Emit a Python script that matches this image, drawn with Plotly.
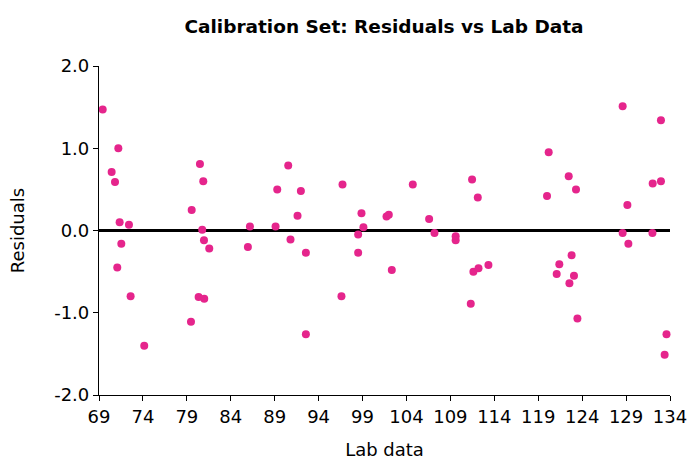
import plotly.graph_objects as go

lab_data = [69.42, 71.2, 70.44, 70.82, 71.35, 72.41, 71.54, 71.08, 72.6, 74.15,
            79.55, 80.49, 80.87, 80.75, 80.95, 81.55, 79.47, 80.34, 80.98,
            86.18, 85.95, 89.29, 89.1, 90.54, 90.8, 91.6, 91.98, 92.55, 92.55,
            96.72, 96.6, 98.88, 99.1, 98.5, 98.5, 101.73, 101.99, 102.33,
            104.72, 106.58, 107.19, 109.6, 109.6, 111.47, 112.12, 111.62, 112.2,
            111.32, 113.33, 120.19, 120.0, 122.47, 123.3, 121.1, 121.4, 122.8,
            123.07, 122.55, 123.46, 128.61, 129.15, 128.61, 129.26, 132.97,
            132.03, 132.97, 132.0, 133.6, 133.39]
residuals = [1.47, 1.0, 0.71, 0.59, 0.10, 0.07, -0.16, -0.45, -0.80, -1.40,
             0.25, 0.81, 0.60, 0.01, -0.12, -0.22, -1.11, -0.81, -0.83,
             0.05, -0.20, 0.50, 0.05, 0.79, -0.11, 0.18, 0.48, -0.27, -1.26,
             0.56, -0.80, 0.21, 0.04, -0.05, -0.27, 0.17, 0.19, -0.48,
             0.56, 0.14, -0.03, -0.07, -0.12, 0.62, 0.40, -0.50, -0.46,
             -0.89, -0.42, 0.95, 0.42, 0.66, 0.50, -0.53, -0.41, -0.30,
             -0.55, -0.64, -1.07, 1.51, 0.31, -0.03, -0.16, 1.34,
             0.57, 0.60, -0.03, -1.26, -1.51]

x_ticks = list(range(69, 135, 5))
y_ticks = [-2.0, -1.0, 0.0, 1.0, 2.0]

W, H = 689, 460

fig = go.Figure()
fig.add_trace(go.Scatter(
    x=lab_data, y=residuals, mode="markers",
    marker=dict(color="#E5258C", size=8, line=dict(width=0)),
    showlegend=False, hoverinfo="x+y", cliponaxis=False))

fnt = "Verdana, DejaVu Sans, sans-serif"
fig.update_layout(
    width=W, height=H,
    margin=dict(l=99, r=19, t=66, b=65, autoexpand=False),
    paper_bgcolor="white", plot_bgcolor="white",
    font=dict(family=fnt, color="black", size=17),
    title=dict(text="<b>Calibration Set: Residuals vs Lab Data</b>",
               x=384 / W, xanchor="center", y=1 - 27 / H, yanchor="middle",
               automargin=False,
               font=dict(family=fnt, size=18.5, color="black")),
    xaxis=dict(range=[69, 134], tickvals=x_ticks, ticktext=[str(v) for v in x_ticks],
               showgrid=False, zeroline=False, showline=True, linecolor="black", linewidth=1.2,
               ticks="outside", ticklen=5, tickcolor="black", tickwidth=1.2,
               automargin=False,
               title=dict(text="Lab data", standoff=20, font=dict(size=18)),
               tickfont=dict(size=18)),
    yaxis=dict(range=[-2.0, 2.0], tickvals=y_ticks, ticktext=["-2.0", "-1.0", "0.0", "1.0", "2.0"],
               showgrid=False, zeroline=True, zerolinecolor="black", zerolinewidth=2.5,
               showline=True, linecolor="black", linewidth=1.2,
               ticks="outside", ticklen=5, tickcolor="black", tickwidth=1.2,
               automargin=False,
               title=dict(text="Residuals", standoff=24, font=dict(size=18)),
               tickfont=dict(size=18)),
)
fig.write_html("out.html", config={"displayModeBar": False},
               post_script="document.body.style.margin='0';document.body.style.overflow='hidden';")
